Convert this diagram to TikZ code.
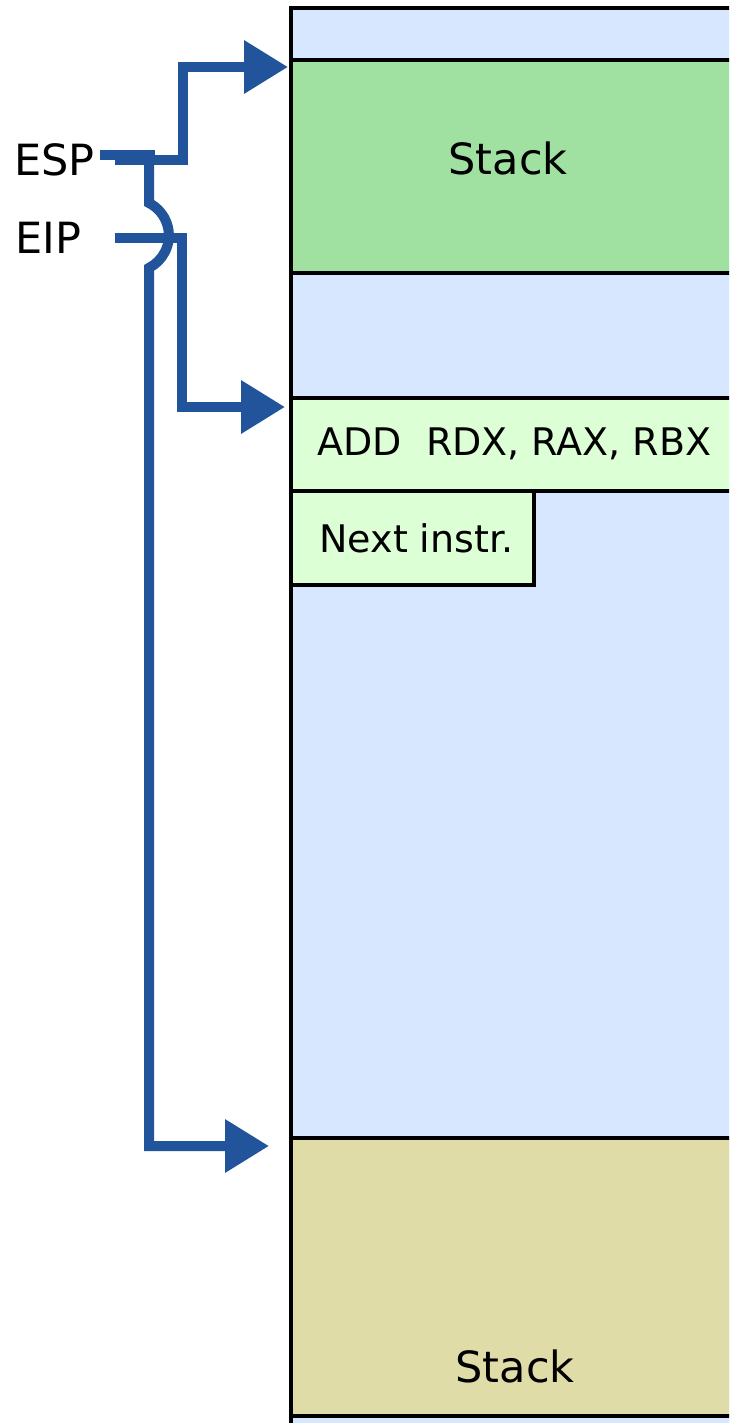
\documentclass[tikz,border=0pt]{standalone}
\usepackage{fontspec}
\setmainfont{DejaVu Sans}
\usetikzlibrary{arrows.meta}

\definecolor{memblue}{RGB}{215,231,255}
\definecolor{stackgreen}{RGB}{160,224,160}
\definecolor{instrgreen}{RGB}{221,255,214}
\definecolor{stackkhaki}{RGB}{224,220,168}
\definecolor{ptrblue}{RGB}{33,84,154}

\tikzset{
  region/.style={draw=black, line width=1.75pt},
  ptr/.style={draw=ptrblue, line width=5pt},
  ptrarrow/.style={ptr, -{Triangle[length=22pt, width=25.5pt]}},
  memtext/.style={font=\fontsize{21.5}{24}\selectfont, inner sep=2.5pt},
  instrtext/.style={font=\fontsize{19}{22}\selectfont, inner sep=2.5pt, anchor=west},
}

\begin{document}
\begin{tikzpicture}[x=0.5pt, y=-0.5pt]
      \useasboundingbox (0,0) rectangle (729,1423);
      \clip (0,0) rectangle (729,1423);
      % memory column
      \draw[region, fill=memblue] (291,8) rectangle (770,1440);
      \draw[region, fill=stackgreen] (291,60) rectangle (770,273);
      \draw[region, fill=instrgreen] (291,398) rectangle (770,491);
      \draw[region, fill=instrgreen] (291,491) rectangle (534,585);
      \draw[region, fill=stackkhaki] (291,1138) rectangle (770,1416);
      \node (stackhitext)[memtext] at (508,158) {Stack};
      \node (stacklotext)[memtext] at (515,1366) {Stack};
      \node (add)[instrtext] at (312,444) {ADD\ \ RDX, RAX, RBX};
      \node (next)[instrtext] at (314,538) {Next instr.};
      % arrow targets
      \coordinate (stackhi) at (288,67);
      \coordinate (instr) at (285,407);
      \coordinate (stacklo) at (269,1146);
      % registers
      \node (esp)[memtext, anchor=east] at (100,160) {ESP};
      \node (eip)[memtext, anchor=east] at (87,238) {EIP};
      \draw[ptrarrow] ([xshift=14pt]eip.east) -- ++(67,0) |- (instr);
      \draw[ptr] ([yshift=2.5pt]esp.east) -- ++(55,0);
      \draw[ptrarrow] ([xshift=7.5pt]esp.east) -- ++(68,0) |- (stackhi);
      \draw[ptrarrow] ([xshift=24.5pt, yshift=2.5pt]esp.east) -- ++(0,48)
            arc[start angle=-63, end angle=63, radius=36.4] |- (stacklo);
\end{tikzpicture}
\end{document}
